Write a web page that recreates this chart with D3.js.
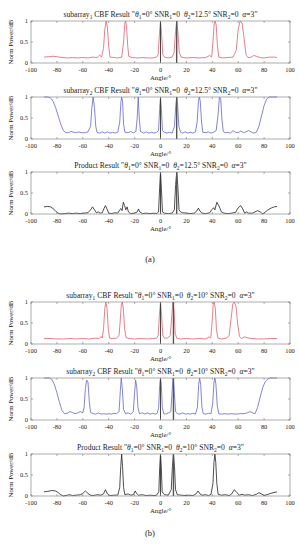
<!DOCTYPE html>
<html>
<head>
<meta charset="utf-8">
<script src="https://cdn.jsdelivr.net/npm/d3@7"></script>
<style>
  body { margin: 0; background: #fff; }
  svg text { font-family: "Liberation Serif", "DejaVu Serif", serif; fill: #222; white-space: pre; }
</style>
</head>
<body>
<div id="chart"></div>
<script>
// Beam pattern panels: x = angle (deg), y = normalised power
// (a) theta2 = 12.5 deg, (b) theta2 = 10 deg

var xTicks = [-100, -80, -60, -40, -20, 0, 20, 40, 60, 80, 100];
var yTicks = [0, 0.5, 1];
var theta2 = [12.5, 10];

var sub1A = [[-90,0.14],[-86,0.15],[-83,0.16],[-80,0.15],[-76,0.13],[-72,0.12],[-68,0.13],[-64,0.12],[-60,0.13],[-56,0.12],[-52,0.14],[-49,0.13],[-47,0.19],[-45.5,0.14],[-44,0.35],[-43,0.8],[-42,1.0],[-41,0.85],[-40,0.4],[-39,0.14],[-36,0.13],[-33,0.12],[-30,0.14],[-28.5,0.5],[-27.5,0.95],[-27,1.0],[-26.3,0.9],[-25.3,0.4],[-24.5,0.16],[-22,0.13],[-18,0.12],[-14,0.13],[-10,0.12],[-6,0.12],[-3,0.14],[-1.8,0.2],[-0.8,0.7],[0,1.0],[0.8,0.7],[1.8,0.2],[3,0.14],[6,0.12],[9,0.14],[10.5,0.25],[11.6,0.75],[12.5,1.0],[13.4,0.75],[14.5,0.25],[16,0.14],[20,0.12],[25,0.13],[30,0.12],[35,0.13],[38,0.18],[39.5,0.14],[40.5,0.5],[41.5,0.95],[42.2,1.0],[43,0.9],[44,0.4],[45,0.14],[48,0.12],[52,0.13],[56,0.14],[58.5,0.3],[60,0.8],[61.5,1.0],[63,0.95],[64.5,0.6],[66,0.2],[67.5,0.13],[70,0.14],[72,0.18],[74,0.16],[77,0.13],[80,0.12],[84,0.14],[88,0.14],[90,0.13]];

var sub2A = [[-90,1],[-87,1],[-85,0.98],[-83,0.9],[-81,0.75],[-79,0.55],[-77,0.35],[-75,0.2],[-73,0.15],[-71,0.15],[-69,0.18],[-67,0.16],[-65,0.15],[-63,0.17],[-61,0.15],[-58,0.15],[-56,0.17],[-54,0.3],[-53,0.75],[-52,1.0],[-51,0.75],[-50,0.3],[-49,0.16],[-47,0.14],[-45,0.17],[-43,0.14],[-41,0.17],[-39,0.14],[-37,0.16],[-35,0.14],[-33,0.16],[-31.5,0.4],[-30.5,0.9],[-30,1.0],[-29.3,0.9],[-28.5,0.35],[-27.5,0.16],[-25,0.15],[-23,0.18],[-21,0.14],[-19,0.18],[-18,0.5],[-17.2,1.0],[-16.4,0.5],[-15.5,0.18],[-13,0.14],[-11,0.17],[-9,0.14],[-7,0.16],[-5,0.14],[-3,0.16],[-1.5,0.2],[-0.7,0.7],[0,1.0],[0.7,0.7],[1.5,0.2],[3,0.16],[5,0.14],[7,0.16],[9,0.14],[10.8,0.3],[11.8,0.8],[12.5,1.0],[13.2,0.8],[14.2,0.3],[15.5,0.16],[17,0.14],[19,0.17],[21,0.14],[23,0.16],[25,0.14],[27,0.17],[28.3,0.4],[29.3,0.9],[30,1.0],[30.7,0.9],[31.7,0.4],[32.7,0.16],[35,0.15],[37,0.17],[39,0.14],[41,0.16],[43,0.2],[44.5,0.6],[45.5,1.0],[46.5,0.95],[47.5,0.45],[48.5,0.18],[50,0.15],[52,0.16],[54,0.14],[56,0.2],[58,0.16],[60,0.15],[62,0.19],[64,0.15],[66,0.17],[68,0.2],[70,0.17],[72,0.14],[74,0.16],[76,0.3],[78,0.55],[80,0.8],[82,0.95],[84,1.0],[90,1.0]];

var prodA = [[-90,0.17],[-87,0.18],[-85,0.17],[-83,0.13],[-81,0.07],[-79,0.02],[-77,0],[-74,0.01],[-71,0.02],[-68,0.01],[-65,0.02],[-62,0.01],[-59,0.02],[-56,0.03],[-54,0.1],[-52.5,0.17],[-51,0.1],[-49.5,0.03],[-48,0.05],[-46.5,0.02],[-45,0.03],[-43.5,0.14],[-42.5,0.2],[-41,0.1],[-40,0.02],[-38,0.01],[-35,0.03],[-33,0.02],[-31.5,0.1],[-30.5,0.13],[-29.7,0.08],[-28.7,0.28],[-27.7,0.2],[-26.8,0.1],[-25.8,0.17],[-24.8,0.05],[-23,0.01],[-20,0.02],[-18,0.05],[-17,0.12],[-16,0.05],[-14,0.01],[-11,0.02],[-8,0.01],[-5,0.02],[-3,0.01],[-1.5,0.05],[-0.7,0.6],[0,1.0],[0.7,0.6],[1.5,0.05],[3,0.02],[6,0.01],[9,0.02],[10.7,0.1],[11.7,0.7],[12.5,1.0],[13.3,0.7],[14.3,0.1],[15.5,0.05],[17,0.03],[20,0.02],[23,0.01],[26,0.02],[28,0.07],[29.3,0.14],[30.5,0.07],[32,0.02],[35,0.01],[38,0.03],[39.5,0.1],[41,0.15],[42,0.1],[43.5,0.28],[45,0.2],[46,0.13],[47,0.05],[49,0.02],[52,0.01],[55,0.02],[58,0.04],[60,0.15],[62,0.2],[63.5,0.12],[65,0.02],[66.5,0.05],[68,0.02],[71,0.02],[73,0.05],[75,0.08],[77,0.05],[79,0],[81,0.05],[83,0.1],[86,0.15],[88,0.17],[90,0.18]];

var sub1B = [[-90,0.13],[-85,0.13],[-80,0.12],[-75,0.12],[-70,0.13],[-65,0.12],[-60,0.13],[-55,0.12],[-50,0.14],[-47.5,0.13],[-46,0.18],[-45,0.14],[-44,0.35],[-43,0.85],[-42.2,1.0],[-41.3,0.85],[-40.3,0.35],[-39.3,0.14],[-37,0.13],[-34,0.14],[-32,0.2],[-31,0.6],[-30.2,0.95],[-29.5,1.0],[-28.7,0.85],[-27.7,0.35],[-26.5,0.15],[-24,0.13],[-20,0.12],[-15,0.13],[-10,0.12],[-6,0.13],[-3,0.14],[-1.8,0.2],[-0.8,0.7],[0,1.0],[0.8,0.7],[1.8,0.2],[3,0.14],[5.5,0.14],[7.5,0.2],[8.8,0.7],[9.6,1.0],[10.4,0.8],[11.4,0.25],[12.5,0.14],[15,0.12],[20,0.13],[25,0.12],[30,0.13],[35,0.12],[37.5,0.17],[38.8,0.14],[39.8,0.5],[40.7,0.95],[41.5,1.0],[42.3,0.85],[43.2,0.35],[44.3,0.14],[47,0.12],[51,0.14],[53,0.2],[54.5,0.6],[55.8,0.95],[57,1.0],[58.3,0.9],[59.5,0.5],[61,0.18],[62.5,0.13],[65,0.17],[67,0.15],[70,0.13],[75,0.12],[80,0.12],[85,0.13],[90,0.13]];

var sub2B = [[-90,1],[-86,1],[-84,0.97],[-82,0.85],[-80,0.65],[-78,0.42],[-76,0.22],[-74,0.15],[-72,0.16],[-70,0.2],[-68,0.18],[-66,0.15],[-64,0.17],[-62,0.2],[-60,0.17],[-59,0.3],[-58,0.75],[-57,0.95],[-56,0.9],[-55,0.45],[-54,0.18],[-52,0.15],[-50,0.14],[-48,0.17],[-46,0.14],[-44,0.15],[-42,0.14],[-40,0.15],[-38,0.14],[-36,0.16],[-34,0.15],[-32,0.2],[-31,0.7],[-30.3,1.0],[-29.5,0.75],[-28.5,0.25],[-27,0.15],[-25,0.17],[-23,0.14],[-21,0.2],[-20,0.65],[-19.2,0.95],[-18.4,0.8],[-17.4,0.3],[-16.3,0.15],[-14,0.17],[-12,0.14],[-10,0.17],[-8,0.14],[-6,0.16],[-4,0.14],[-2.5,0.16],[-1.4,0.3],[-0.6,0.85],[0,1.0],[0.6,0.85],[1.4,0.3],[2.5,0.15],[4,0.14],[6,0.17],[8,0.2],[9,0.7],[9.8,1.0],[10.6,0.7],[11.6,0.2],[13,0.15],[15,0.14],[17,0.17],[19,0.14],[21,0.15],[23,0.14],[25,0.16],[27,0.14],[28.5,0.3],[29.5,0.85],[30.2,1.0],[31,0.85],[32,0.3],[33,0.15],[35,0.14],[37,0.16],[39,0.15],[40.3,0.4],[41.3,0.9],[42,1.0],[42.8,0.85],[43.8,0.35],[45,0.15],[47,0.14],[50,0.15],[52,0.14],[55,0.15],[58,0.14],[61,0.15],[64,0.15],[67,0.17],[69,0.2],[71,0.17],[73,0.15],[75,0.3],[77,0.55],[79,0.78],[81,0.92],[83,0.98],[85,1],[90,1]];

var prodB = [[-90,0.1],[-87,0.11],[-84,0.13],[-81,0.12],[-79,0.08],[-77,0.03],[-75,0],[-72,0.02],[-70,0.03],[-68,0.01],[-65,0.02],[-62,0.03],[-60,0.06],[-58,0.12],[-56,0.06],[-54,0.02],[-52,0.01],[-49,0.03],[-46,0.02],[-44,0.05],[-42.5,0.15],[-41,0.05],[-39,0.01],[-36,0.02],[-33,0.02],[-31.5,0.2],[-30.7,0.7],[-30,1.0],[-29.3,0.7],[-28.5,0.2],[-27.5,0.03],[-25,0.05],[-23,0.02],[-21,0.03],[-19.5,0.12],[-18.5,0.06],[-17,0.02],[-14,0.03],[-11,0.01],[-8,0.02],[-5,0.01],[-3,0.02],[-1.3,0.1],[-0.6,0.7],[0,1.0],[0.6,0.7],[1.3,0.1],[3,0.03],[6,0.02],[8.3,0.15],[9.2,0.7],[10,1.0],[10.8,0.7],[11.6,0.15],[13,0.03],[16,0.02],[19,0.01],[22,0.02],[25,0.01],[27.5,0.05],[29,0.12],[30.5,0.05],[32,0.02],[35,0.03],[37,0.01],[39,0.04],[40.5,0.3],[41.3,0.8],[42,1.0],[42.7,0.8],[43.5,0.3],[44.5,0.04],[47,0.02],[50,0.03],[53,0.01],[55,0.05],[57,0.15],[59,0.08],[61,0.02],[63,0.04],[65,0.02],[68,0.03],[71,0.01],[74,0.04],[76,0.08],[78,0.05],[80,0.01],[83,0.04],[86,0.07],[90,0.1]];

var W = 299, H = 550;
var left = 31, right = 290, ph = 42;

// one entry per panel
var panels = [
  { top: 21,  name: "sub1", idx: "1", data: sub1A, th: 0, color: "#e0606e" },
  { top: 97,  name: "sub2", idx: "2", data: sub2A, th: 0, color: "#6464d2" },
  { top: 172, name: "prod", idx: "",  data: prodA, th: 0, color: "#222" },
  { top: 302, name: "sub1", idx: "1", data: sub1B, th: 1, color: "#e0606e" },
  { top: 378, name: "sub2", idx: "2", data: sub2B, th: 1, color: "#6464d2" },
  { top: 454, name: "prod", idx: "",  data: prodB, th: 1, color: "#222" }
];

var svg = d3.select("#chart").append("svg")
    .attr("width", W)
    .attr("height", H);

var x = d3.scaleLinear().domain([-100, 100]).range([left, right]);

panels.forEach(function (p) {
    var y = d3.scaleLinear().domain([0, 1]).range([p.top + ph, p.top]);
    var g = svg.append("g");

    // title, built from pieces so the subscripts sit lower
    var t = g.append("text")
        .attr("x", (left + right) / 2)
        .attr("y", p.top - 4)
        .attr("text-anchor", "middle")
        .style("font-size", "7.6px");
    var pieces = [];
    if (p.name == "prod") pieces.push(["Product Result \""]);
    else pieces.push(["subarray"], [p.idx, "sub"], [" CBF Result \""]);
    pieces.push(["\u03B8", "it"], ["1", "sub"], ["=0\u00B0 SNR"], ["1", "sub"], ["=0  "],
        ["\u03B8", "it"], ["2", "sub"], ["=" + theta2[p.th] + "\u00B0 SNR"], ["2", "sub"],
        ["=0  "], ["\u03B1", "it"], ["=3\""]);
    var shifted = false;
    pieces.forEach(function (s) {
        var ts = t.append("tspan").text(s[0]);
        if (s[1] == "sub") {
            ts.attr("dy", 2).style("font-size", "5.5px");
            shifted = true;
        } else if (shifted) {
            ts.attr("dy", -2);
            shifted = false;
        }
        if (s[1] == "it") ts.style("font-style", "italic");
    });

    // curve
    var line = d3.line()
        .x(function (d) { return x(d[0]); })
        .y(function (d) { return y(d[1]); });
    g.append("path")
        .datum(p.data)
        .attr("d", line)
        .attr("fill", "none")
        .attr("stroke", p.color)
        .attr("stroke-width", 0.8);

    // source direction markers
    g.append("line")
        .attr("x1", x(0)).attr("x2", x(0))
        .attr("y1", y(0)).attr("y2", y(1))
        .attr("stroke", "#333").attr("stroke-width", 0.9);
    g.append("line")
        .attr("x1", x(theta2[p.th])).attr("x2", x(theta2[p.th]))
        .attr("y1", y(0)).attr("y2", y(1))
        .attr("stroke", "#555").attr("stroke-width", 1.4);

    // box + inward ticks, matlab style
    g.append("rect")
        .attr("x", left).attr("y", p.top)
        .attr("width", right - left).attr("height", ph)
        .attr("fill", "none").attr("stroke", "#8a8a8a").attr("stroke-width", 0.7);

    xTicks.forEach(function (v) {
        g.append("line").attr("x1", x(v)).attr("x2", x(v))
            .attr("y1", y(0)).attr("y2", y(0) - 2)
            .attr("stroke", "#777").attr("stroke-width", 0.6);
        g.append("line").attr("x1", x(v)).attr("x2", x(v))
            .attr("y1", y(1)).attr("y2", y(1) + 2)
            .attr("stroke", "#777").attr("stroke-width", 0.6);
        g.append("text")
            .attr("x", x(v)).attr("y", y(0) + 8.5)
            .attr("text-anchor", "middle")
            .style("font-size", "6.4px")
            .text(v);
    });
    yTicks.forEach(function (v) {
        g.append("line").attr("x1", left).attr("x2", left + 2)
            .attr("y1", y(v)).attr("y2", y(v))
            .attr("stroke", "#777").attr("stroke-width", 0.6);
        g.append("line").attr("x1", right).attr("x2", right - 2)
            .attr("y1", y(v)).attr("y2", y(v))
            .attr("stroke", "#777").attr("stroke-width", 0.6);
        g.append("text")
            .attr("x", left - 3).attr("y", y(v) + 1.8)
            .attr("text-anchor", "end")
            .style("font-size", "6.4px")
            .text(v);
    });

    // axis labels
    g.append("text")
        .attr("x", (left + right) / 2).attr("y", y(0) + 17)
        .attr("text-anchor", "middle")
        .style("font-size", "6.8px")
        .text("Angle/\u00B0");
    g.append("text")
        .attr("transform", "translate(13," + (p.top + ph / 2) + ") rotate(-90)")
        .attr("text-anchor", "middle")
        .style("font-size", "6.8px")
        .text("Norm Power/dB");
});

// sub-figure captions
svg.append("text").attr("x", 150).attr("y", 262)
    .attr("text-anchor", "middle").style("font-size", "8.5px").text("(a)");
svg.append("text").attr("x", 150).attr("y", 536)
    .attr("text-anchor", "middle").style("font-size", "8.5px").text("(b)");
</script>
</body>
</html>
